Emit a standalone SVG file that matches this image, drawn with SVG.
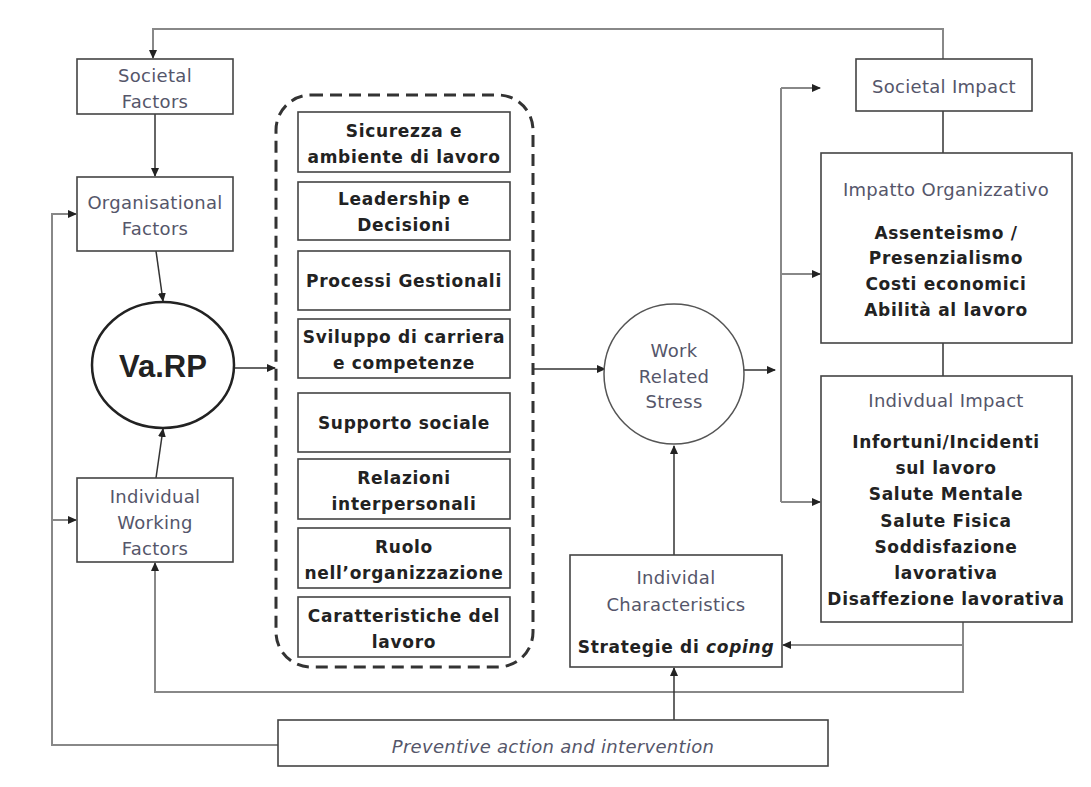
<svg xmlns="http://www.w3.org/2000/svg" width="1091" height="787" viewBox="0 0 1091 787">
<style>
.box{fill:#fff;stroke:#444;stroke-width:1.6}
.g{font-family:"DejaVu Sans",Verdana,sans-serif;font-size:18px;fill:#55566a;text-anchor:middle;letter-spacing:0.3px}
.b{font-family:"DejaVu Sans",Verdana,sans-serif;font-weight:bold;font-size:17px;fill:#222;text-anchor:middle;letter-spacing:0.7px}
.ln{fill:none;stroke:#333;stroke-width:1.5}
.fb{fill:none;stroke:#888;stroke-width:2}
</style>
<defs>
<marker id="ah" markerWidth="9" markerHeight="8" refX="8" refY="4" orient="auto" markerUnits="userSpaceOnUse">
<path d="M0,0 L9,4 L0,8 z" fill="#222"/>
</marker>
</defs>
<rect width="1091" height="787" fill="#fff"/>
<g id="connectors">
<path class="fb" d="M943,59 V29 H153 V58" marker-end="url(#ah)"/>
<path class="ln" d="M155,114 V176" marker-end="url(#ah)"/>
<path class="ln" d="M156,251 L163,301" marker-end="url(#ah)"/>
<path class="ln" d="M156,478 L163,429" marker-end="url(#ah)"/>
<path class="ln" d="M235,368 H275" marker-end="url(#ah)"/>
<path class="ln" d="M533,369 H605" marker-end="url(#ah)"/>
<path class="ln" d="M743,370 H775" marker-end="url(#ah)"/>
<path class="fb" d="M781,88 V502"/>
<path class="fb" d="M781,88 H820" marker-end="url(#ah)"/>
<path class="fb" d="M781,274 H820" marker-end="url(#ah)"/>
<path class="fb" d="M781,502 H820" marker-end="url(#ah)"/>
<path class="ln" d="M943,111 V153"/>
<path class="ln" d="M943,343 V376"/>
<path class="fb" d="M963,622 V692 H155 V563" marker-end="url(#ah)"/>
<path class="fb" d="M963,645 H783" marker-end="url(#ah)"/>
<path class="ln" d="M674,555 V446" marker-end="url(#ah)"/>
<path class="ln" d="M674,720 V668" marker-end="url(#ah)"/>
<path class="fb" d="M278,745 H52 V214 H76" marker-end="url(#ah)"/>
<path class="fb" d="M52,520 H76" marker-end="url(#ah)"/>
</g>
<g id="societal-factors">
<rect class="box" x="77" y="59" width="156" height="55"/>
<text class="g" x="155" y="82">Societal</text>
<text class="g" x="155" y="108">Factors</text>
</g>
<g id="organisational-factors">
<rect class="box" x="77" y="177" width="156" height="74"/>
<text class="g" x="155" y="209">Organisational</text>
<text class="g" x="155" y="235">Factors</text>
</g>
<g id="varp">
<ellipse cx="163" cy="365" rx="71" ry="63" fill="#fff" stroke="#222" stroke-width="2.5"/>
<text x="163" y="377" font-family="'Liberation Sans',Arial,sans-serif" font-weight="bold" font-size="31" fill="#222" text-anchor="middle">Va.RP</text>
</g>
<g id="individual-working-factors">
<rect class="box" x="77" y="478" width="156" height="84"/>
<text class="g" x="155" y="503">Individual</text>
<text class="g" x="155" y="529">Working</text>
<text class="g" x="155" y="555">Factors</text>
</g>
<g id="hazards">
<rect x="276" y="95" width="257" height="572" rx="35" fill="none" stroke="#333" stroke-width="3" stroke-dasharray="12 7"/>
<g id="h1"><rect class="box" x="298" y="112" width="212" height="60"/>
<text class="b" x="404" y="137">Sicurezza e</text><text class="b" x="404" y="163">ambiente di lavoro</text></g>
<g id="h2"><rect class="box" x="298" y="182" width="212" height="58"/>
<text class="b" x="404" y="205">Leadership e</text><text class="b" x="404" y="231">Decisioni</text></g>
<g id="h3"><rect class="box" x="298" y="251" width="212" height="59"/>
<text class="b" x="404" y="287">Processi Gestionali</text></g>
<g id="h4"><rect class="box" x="298" y="319" width="212" height="59"/>
<text class="b" x="404" y="343">Sviluppo di carriera</text><text class="b" x="404" y="369">e competenze</text></g>
<g id="h5"><rect class="box" x="298" y="393" width="212" height="59"/>
<text class="b" x="404" y="429">Supporto sociale</text></g>
<g id="h6"><rect class="box" x="298" y="459" width="212" height="60"/>
<text class="b" x="404" y="484">Relazioni</text><text class="b" x="404" y="510">interpersonali</text></g>
<g id="h7"><rect class="box" x="298" y="528" width="212" height="60"/>
<text class="b" x="404" y="553">Ruolo</text><text class="b" x="404" y="579">nell’organizzazione</text></g>
<g id="h8"><rect class="box" x="298" y="597" width="212" height="60"/>
<text class="b" x="404" y="622">Caratteristiche del</text><text class="b" x="404" y="648">lavoro</text></g>
</g>
<g id="work-related-stress">
<circle cx="674" cy="374" r="70" fill="#fff" stroke="#555" stroke-width="1.5"/>
<text class="g" x="674" y="357">Work</text>
<text class="g" x="674" y="383">Related</text>
<text class="g" x="674" y="408">Stress</text>
</g>
<g id="individual-characteristics">
<rect class="box" x="570" y="555" width="212" height="112"/>
<text class="g" x="676" y="584">Individal</text>
<text class="g" x="676" y="611">Characteristics</text>
<text class="b" x="676" y="653">Strategie di <tspan font-style="italic">coping</tspan></text>
</g>
<g id="societal-impact">
<rect class="box" x="856" y="59" width="176" height="52"/>
<text class="g" x="944" y="93">Societal Impact</text>
</g>
<g id="impatto-organizzativo">
<rect class="box" x="821" y="153" width="251" height="190"/>
<text class="g" x="946" y="196">Impatto Organizzativo</text>
<text class="b" x="946" y="239">Assenteismo /</text>
<text class="b" x="946" y="264">Presenzialismo</text>
<text class="b" x="946" y="290">Costi economici</text>
<text class="b" x="946" y="316">Abilità al lavoro</text>
</g>
<g id="individual-impact">
<rect class="box" x="821" y="376" width="251" height="246"/>
<text class="g" x="946" y="407">Indivdual Impact</text>
<text class="b" x="946" y="448">Infortuni/Incidenti</text>
<text class="b" x="946" y="474">sul lavoro</text>
<text class="b" x="946" y="500">Salute Mentale</text>
<text class="b" x="946" y="527">Salute Fisica</text>
<text class="b" x="946" y="553">Soddisfazione</text>
<text class="b" x="946" y="579">lavorativa</text>
<text class="b" x="946" y="605">Disaffezione lavorativa</text>
</g>
<g id="preventive-action">
<rect class="box" x="278" y="720" width="550" height="46"/>
<text class="g" x="553" y="753" font-style="italic">Preventive action and intervention</text>
</g>
</svg>
